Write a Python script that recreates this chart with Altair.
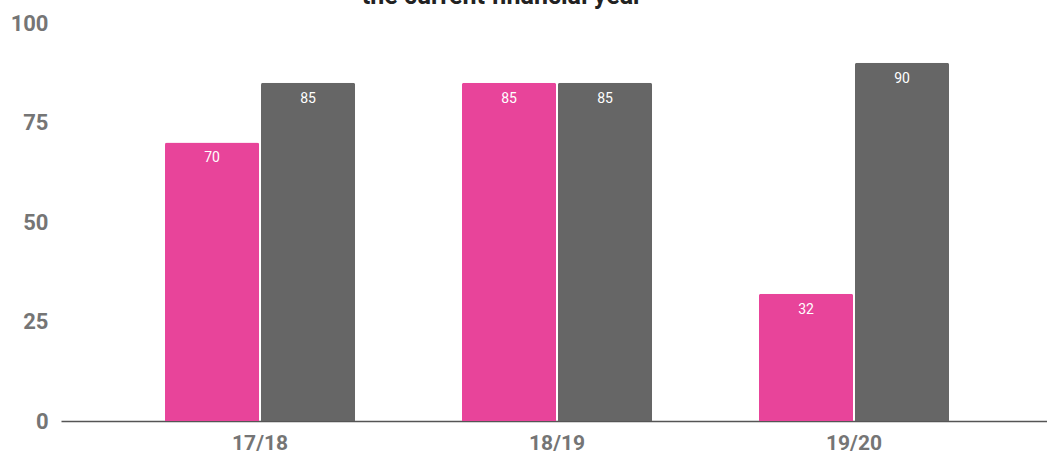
import altair as alt
import pandas as pd

years = ["17/18", "18/19", "19/20"]
series = ["Actual", "Target"]
actual = [70, 85, 32]
target = [85, 85, 90]
colors = ["#E8449A", "#666666"]
title_line = "the current financial year"

rows = []
for i, y in enumerate(years):
    rows.append({"year": y, "series": series[0], "value": actual[i]})
    rows.append({"year": y, "series": series[1], "value": target[i]})
df = pd.DataFrame(rows)

x = alt.X("year:N", sort=years, title=None,
          scale=alt.Scale(paddingInner=0.36, paddingOuter=0.34, align=0.515),
          axis=alt.Axis(labelAngle=0, ticks=False, labelPadding=11,
                        labelFont="Roboto", labelFontSize=21, labelFontWeight="bold",
                        labelColor="#757575", domainColor="#555555", domainWidth=1.5))
xo = alt.XOffset("series:N", sort=series, scale=alt.Scale(paddingInner=0.02))
y = alt.Y("value:Q", title=None,
          scale=alt.Scale(domain=[0, 100], nice=False),
          axis=alt.Axis(values=[0, 25, 50, 75, 100], grid=False, domain=False, ticks=False,
                        labelPadding=13, labelFont="Roboto", labelFontSize=22,
                        labelFontWeight="bold", labelColor="#757575"))

bars = alt.Chart(df).mark_bar(cornerRadiusTopLeft=2, cornerRadiusTopRight=2).encode(
    x=x, xOffset=xo, y=y,
    color=alt.Color("series:N", sort=series,
                    scale=alt.Scale(domain=series, range=colors), legend=None),
)

labels = alt.Chart(df).mark_text(
    baseline="alphabetic", dy=20, color="white", font="Roboto", fontSize=14
).encode(x=x, xOffset=xo, y=y, text="value:Q")

title = alt.Chart(pd.DataFrame({"t": [title_line]})).mark_text(
    baseline="alphabetic", align="center", font="Roboto", fontSize=25,
    fontWeight="bold", color="#222222"
).encode(x=alt.value(441), y=alt.value(-19), text="t:N")

chart = alt.layer(bars, labels, title).properties(
    width=986, height=398,
    padding={"left": 61, "top": 23, "right": 0, "bottom": 34},
    autosize=alt.AutoSizeParams(type="none"),
).configure_view(stroke=None)

chart.save("out.html", embed_options={"renderer": "svg", "actions": False})
